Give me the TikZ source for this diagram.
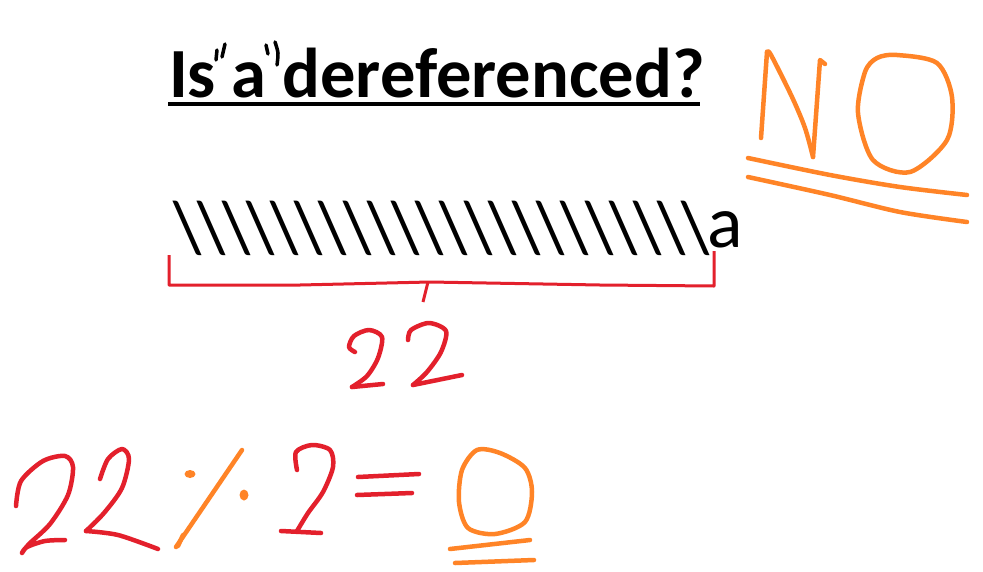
\documentclass[tikz,border=0pt]{standalone}
\usepackage{fontspec}
\setmainfont{Carlito}
\usetikzlibrary{positioning}
\definecolor{paintred}{HTML}{E3202C}
\definecolor{paintorange}{HTML}{FF8427}

\begin{document}
\begin{tikzpicture}[
  x=1pt, y=-1pt,
  every node/.style={inner sep=0pt, outer sep=0pt},
  title/.style={font=\fontsize{70.5}{84}\selectfont\bfseries, anchor=base west},
  glyph/.style={font=\fontsize{74}{88}\selectfont, anchor=base},
  pen/.style={line width=4.5pt, line cap=round, line join=round},
  redpen/.style={pen, draw=paintred},
  orangepen/.style={pen, draw=paintorange},
  bracket/.style={draw=paintred, line width=3pt, line join=round},
  quote/.style={draw=black, line width=3.5pt, line cap=round}
]
  \useasboundingbox (0,0) rectangle (983,571);
  \fill[white] (0,0) rectangle (983,571);

  % title
  \node[title] (title) at (169,97) {Is a dereferenced?};
  \draw[line width=3.5pt] (168,104) -- (700,104);
  \draw[quote] (217,50) -- (216,60);
  \draw[quote] (225,44) -- (222,57);
  \draw[quote] (266,45) -- (268,54);
  \draw[quote] plot[smooth] coordinates {(275,42) (278,53) (277,65)};

  % the backslashes and the a
  \foreach \i in {0,...,21}
    \node[glyph] (bs\i) at ({188+24.2*\i},252) {\textbackslash};
  \node[glyph, anchor=base west] (letter) at (707,247) {a};

  % bracket with its count
  \draw[bracket] (169,255) -- (169,285) -- (300,285) -- (430,282) -- (600,285) -- (714,286) -- (714,251);
  \draw[bracket] (428,282) -- (423,302);
  \draw[redpen] plot[smooth] coordinates {(355,352) (349,347) (354,336) (369,330) (382,337) (378,358) (367,376) (352,387)};
  \draw[redpen] (352,387) -- (383,384);
  \draw[redpen] plot[smooth] coordinates {(408,340) (411,330) (429,323) (446,331) (441,352) (427,372) (413,385)};
  \draw[redpen] (413,385) -- (462,375);

  % the answer
  \draw[orangepen] plot[smooth] coordinates {(761,138) (764,95) (767,52)};
  \draw[orangepen] plot[smooth] coordinates {(767,52) (771,55) (792,97) (805,128) (813,157)};
  \draw[orangepen] (813,157) -- (820,60) -- (825,64);
  \draw[orangepen] plot[smooth cycle] coordinates {(877,58) (897,55) (937,63) (952,97) (947,140) (910,172) (873,160) (858,113) (865,72)};
  \draw[orangepen] plot[smooth] coordinates {(748,158) (830,175) (900,187) (967,195)};
  \draw[orangepen] plot[smooth] coordinates {(748,177) (830,195) (900,212) (967,222)};

  % 22 % 2 = 0
  \draw[redpen] plot[smooth] coordinates {(16,506) (21,481) (43,461) (65,456) (73,467) (68,495) (50,524) (29,544) (22,553) (27,547) (45,541) (65,540)};
  \draw[redpen] plot[smooth] coordinates {(100,479) (108,459) (122,449) (129,459) (122,488) (104,513) (86,531)};
  \draw[redpen] plot[smooth] coordinates {(86,531) (118,535) (158,549)};
  \draw[orangepen] (176,547) -- (242,450);
  \draw[orangepen] (183,535) -- (178,546);
  \fill[paintorange] (190,474) ellipse (5.5pt and 4pt);
  \fill[paintorange] (244,495) ellipse (4.5pt and 5.5pt);
  \draw[redpen] plot[smooth] coordinates {(297,470) (296,452) (312,445) (330,450) (333,467) (323,492) (308,513) (297,531)};
  \draw[redpen] (281,531) -- (321,533);
  \draw[redpen] (358,477) -- (419,474);
  \draw[redpen] (357,495) -- (412,493);
  \draw[orangepen] plot[smooth cycle] coordinates {(477,450) (500,453) (525,468) (532,492) (525,522) (495,534) (468,528) (459,502) (462,470)};
  \draw[orangepen] (450,549) -- (530,540);
  \draw[orangepen] (455,563) -- (534,560);
\end{tikzpicture}
\end{document}
